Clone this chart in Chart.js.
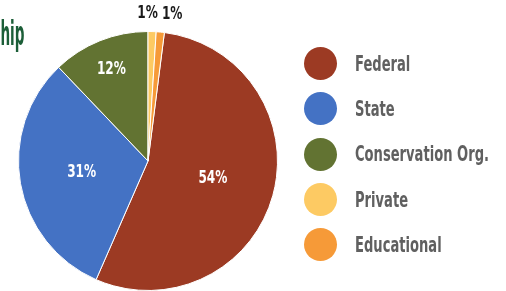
<!DOCTYPE html>
<html>
<head>
<meta charset="utf-8">
<script src="https://cdn.jsdelivr.net/npm/chart.js@4.4.1/dist/chart.umd.min.js"></script>
<style>
  body { margin: 0; background: #fff; overflow: hidden; }
  #wrap { position: relative; width: 506px; height: 291px; }
  #title { position: absolute; right: 482px; top: 14px; line-height: 34px; font: bold 33px "DejaVu Sans", sans-serif; color: #1c5e38; transform-origin: right top; white-space: nowrap; }
  #legend { position: absolute; left: 304px; top: 41px; }
  .row { height: 45.3px; display: flex; align-items: center; }
  .dot { width: 33px; height: 33px; border-radius: 50%; flex: none; }
  .lbl { margin-left: 18px; font: bold 21px "DejaVu Sans", sans-serif; color: #606060; transform-origin: left center; white-space: nowrap; }
</style>
</head>
<body>
<div id="wrap">
  <canvas id="pie"></canvas>
  <div id="title">hip</div>
  <div id="legend"></div>
</div>
<script>
// donnees
const labels = ['Federal', 'State', 'Conservation Org.', 'Private', 'Educational'];
const shares = [54, 31, 12, 1, 1];
const colors = ['#9c3a23', '#4472c4', '#627332', '#fdca63', '#f69a38'];

const total = shares.reduce((a, b) => a + b, 0);
// les deux petites parts sont avant le debut de Federal
const startAngle = (shares[3] + shares[4]) / total * 360;

// la police d'origine est tres condensee : on compresse en largeur
const probe = document.createElement('canvas').getContext('2d');
function squeezeFor(font, text, width) {
    probe.font = font;
    return width / probe.measureText(text).width;
}
const labelFont = 'bold 17px "DejaVu Sans", sans-serif';
const squeeze = squeezeFor(labelFont, '54%', 29);

document.getElementById('title').style.transform =
    `scaleX(${squeezeFor('bold 33px "DejaVu Sans"', 'hip', 24)})`;

// legende en html
const legend = document.getElementById('legend');
const legendSqueeze = squeezeFor('bold 21px "DejaVu Sans"', 'Conservation Org.', 134);
labels.forEach((name, i) => {
    const row = document.createElement('div');
    row.className = 'row';
    row.innerHTML = `<div class="dot" style="background:${colors[i]}"></div><div class="lbl" style="transform:scaleX(${legendSqueeze})">${name}</div>`;
    legend.appendChild(row);
});

function drawText(ctx, text, x, y) {
    ctx.save();
    ctx.translate(x, y);
    ctx.scale(squeeze, 1);
    ctx.fillText(text, 0, 0);
    ctx.restore();
}

// etiquettes de pourcentage
const pctLabels = {
    id: 'pctLabels',
    afterDatasetsDraw(chart) {
        const ctx = chart.ctx;
        const arcs = chart.getDatasetMeta(0).data;
        const outer = [];
        ctx.save();
        ctx.font = labelFont;
        ctx.textAlign = 'center';
        ctx.textBaseline = 'middle';
        arcs.forEach((arc, i) => {
            const p = arc.getProps(['x', 'y', 'startAngle', 'endAngle', 'outerRadius'], true);
            const mid = (p.startAngle + p.endAngle) / 2;
            const text = shares[i] + '%';
            if (shares[i] < 5) {
                const r = p.outerRadius + 18;
                outer.push({ text, x: p.x + Math.cos(mid) * r, y: p.y + Math.sin(mid) * r });
            } else {
                const r = p.outerRadius * (shares[i] > 20 ? 0.52 : 0.76);
                ctx.fillStyle = '#fff';
                drawText(ctx, text, p.x + Math.cos(mid) * r, p.y + Math.sin(mid) * r);
            }
        });
        // ecarter les etiquettes exterieures qui se chevauchent
        for (let i = 1; i < outer.length; i++) {
            const a = outer[i - 1], b = outer[i];
            const need = (ctx.measureText(a.text).width + ctx.measureText(b.text).width) / 2 * squeeze + 4;
            const gap = b.x - a.x;
            if (gap < need) {
                a.x -= (need - gap) / 3;
                b.x += (need - gap) * 2 / 3;
            }
        }
        ctx.fillStyle = '#1a1a1a';
        outer.forEach(o => drawText(ctx, o.text, o.x, o.y));
        ctx.restore();
    }
};

new Chart(document.getElementById('pie'), {
    type: 'pie',
    data: {
        labels: labels,
        datasets: [{
            data: shares,
            backgroundColor: colors,
            borderColor: '#ffffff',
            borderWidth: 1
        }]
    },
    options: {
        responsive: true,
        maintainAspectRatio: false,
        animation: false,
        rotation: startAngle,
        layout: { padding: { left: 18, top: 31, right: 228, bottom: 0 } },
        plugins: {
            legend: { display: false },
            tooltip: { enabled: false }
        }
    },
    plugins: [pctLabels]
});
</script>
</body>
</html>
